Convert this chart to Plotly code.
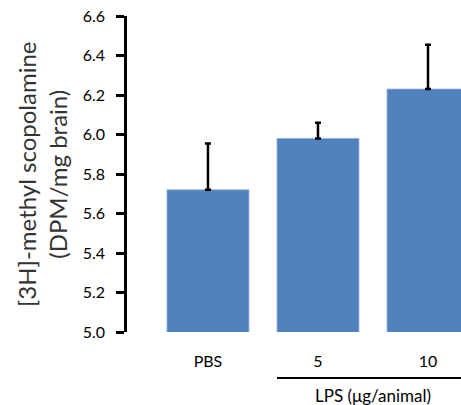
import plotly.graph_objects as go

categories = ["PBS", "5", "10"]
values = [5.72, 5.98, 6.23]
errors = [0.235, 0.08, 0.225]
y_ticks = [5.0, 5.2, 5.4, 5.6, 5.8, 6.0, 6.2, 6.4, 6.6]
y_title = "[3H]-methyl scopolamine<br>(DPM/mg brain)"
group_label = "LPS (\u03bcg/animal)"

FONT = "Lato, Open Sans, sans-serif"
xpos = list(range(len(categories)))

# plot area in page pixels: x 127..461, y 16..332
PL, PR, PT, PB = 127, 461, 16, 332
PW, PH = PR - PL, PB - PT

fig = go.Figure(go.Bar(
    x=xpos, y=values, width=0.745,
    marker=dict(color="#4F81BD", line=dict(color="#8FB0DA", width=0.8)),
    error_y=dict(type="data", array=errors, arrayminus=[0]*len(errors), symmetric=False,
                 color="black", thickness=2.5, width=3),
))

fig.update_layout(
    width=461, height=405,
    margin=dict(l=PL, r=0, t=PT, b=405 - PB),
    plot_bgcolor="white", paper_bgcolor="white",
    showlegend=False,
    font=dict(family=FONT, color="black"),
    xaxis=dict(range=[-0.736, 2.3], tickvals=xpos, ticktext=categories,
               showline=False, showgrid=False, zeroline=False, ticks="",
               tickfont=dict(size=16, color="black"), ticklabelstandoff=18),
    yaxis=dict(range=[5.0, 6.6], tickvals=y_ticks, ticktext=[f"{t:.1f}" for t in y_ticks],
               showline=True, linecolor="black", linewidth=2.5,
               ticks="outside", ticklen=8, tickwidth=2.5, tickcolor="black",
               showgrid=False, zeroline=False,
               tickfont=dict(size=16, color="black"), ticklabelstandoff=8),
    annotations=[
        dict(text=y_title, xref="paper", yref="paper", x=(42 - PL) / PW, y=(PB - 174) / PH,
             textangle=-90, showarrow=False, xanchor="center", yanchor="middle",
             font=dict(size=24, color="#333333", family=FONT)),
        dict(text=group_label, xref="x", yref="paper", x=1.5, y=(PB - 395) / PH,
             showarrow=False, xanchor="center", yanchor="middle",
             font=dict(size=17, color="black", family=FONT)),
    ],
    shapes=[dict(type="line", xref="x", yref="paper", x0=1 - 0.3727, x1=2.3,
                 y0=(PB - 378) / PH, y1=(PB - 378) / PH, line=dict(color="black", width=2))],
)

fig.write_html("out.html", config={"displayModeBar": False},
               post_script="document.body.style.margin='0';document.body.style.overflow='hidden';")
